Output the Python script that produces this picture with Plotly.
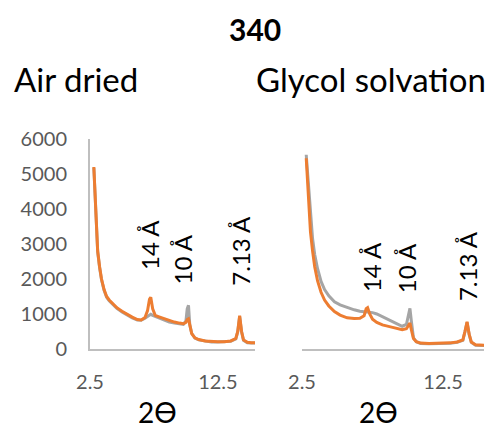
import plotly.graph_objects as go

# sample 340 - XRD traces, 2-theta (Co K-alpha) vs counts
panel_titles = ["Air dried", "Glycol solvation"]
peak_labels = ["14 Å", "10 Å", "7.13 Å"]
x_ticks = [2.5, 12.5]
y_ticks = [0, 1000, 2000, 3000, 4000, 5000, 6000]

air_theta = [2.8, 2.9, 3.0, 3.1, 3.25, 3.4, 3.6, 3.8, 4.0, 4.3, 4.6, 5.0, 5.4,
             5.8, 6.2, 6.5, 6.8, 7.0, 7.15, 7.25, 7.4, 7.6, 7.9, 8.3, 8.7, 9.1,
             9.5, 9.8, 10.0, 10.1, 10.2, 10.3, 10.45, 10.7, 11.0, 11.5, 12.0,
             12.5, 13.0, 13.5, 13.9, 14.05, 14.2, 14.35, 14.5, 14.8, 15.1, 15.4]
air_orange = [5200, 4400, 3650, 2800, 2350, 2000, 1700, 1500, 1400, 1290, 1180,
              1080, 990, 910, 840, 830, 900, 1100, 1420, 1480, 1150, 960, 920,
              870, 800, 770, 740, 720, 760, 840, 860, 650, 440, 320, 270, 230,
              210, 210, 210, 230, 300, 500, 950, 500, 260, 190, 180, 180]
air_gray = [5180, 4380, 3630, 2780, 2330, 1980, 1680, 1480, 1380, 1270, 1160,
            1060, 970, 890, 830, 820, 880, 930, 970, 990, 960, 930, 880, 830,
            770, 740, 710, 700, 800, 1150, 1250, 700, 450, 310, 260, 220, 200,
            200, 200, 220, 290, 490, 930, 490, 250, 180, 170, 170]

gly_theta = [2.8, 2.9, 3.0, 3.1, 3.25, 3.4, 3.6, 3.85, 4.1, 4.4, 4.8, 5.2, 5.7,
             6.2, 6.6, 6.9, 7.05, 7.15, 7.3, 7.5, 7.8, 8.2, 8.7, 9.2, 9.6, 9.9,
             10.05, 10.15, 10.25, 10.4, 10.6, 10.9, 11.5, 12.0, 12.5, 13.0,
             13.5, 13.9, 14.05, 14.2, 14.35, 14.5, 14.8, 15.1, 15.4]
gly_orange = [5450, 4700, 3900, 3350, 2800, 2350, 1950, 1620, 1400, 1230, 1070,
              970, 890, 870, 880, 950, 1150, 1180, 1000, 850, 760, 690, 640,
              590, 550, 580, 700, 740, 550, 300, 210, 170, 160, 160, 165, 175,
              200, 260, 500, 780, 420, 200, 120, 115, 110]
gly_gray = [5550, 5000, 4300, 3700, 3150, 2700, 2300, 1930, 1700, 1520, 1350,
            1260, 1180, 1120, 1080, 1070, 1070, 1070, 1060, 1040, 1000, 920,
            830, 710, 650, 700, 1000, 1160, 800, 320, 210, 160, 150, 150, 155,
            165, 190, 250, 490, 760, 410, 190, 110, 105, 100]

# peak label anchors (2theta, counts) for each panel
air_label_x = [7.1, 9.75, 14.2]
air_label_y = [2970, 2550, 2800]
gly_label_x = [7.39, 9.88, 14.2]
gly_label_y = [2340, 2310, 2370]

ORANGE = "#ED7D31"
GRAY = "#A5A5A5"
AXIS = "#BFBFBF"
TICK = "#595959"
FONT = "Lato"

# the page body keeps its default 8px margin, so the figure is shrunk by it
OFF = 8
W, H = 497 - OFF, 432 - OFF


def px_x(p):
    return (p - OFF) / W


def px_y(p):
    return 1 - (p - OFF) / H


fig = go.Figure()

for xs, ys_gray, ys_orange, ax in [(air_theta, air_gray, air_orange, ""),
                                   (gly_theta, gly_gray, gly_orange, "2")]:
    fig.add_trace(go.Scatter(x=xs, y=ys_gray, mode="lines",
                             line=dict(color=GRAY, width=3),
                             xaxis="x" + ax, yaxis="y" + ax, showlegend=False))
    fig.add_trace(go.Scatter(x=xs, y=ys_orange, mode="lines",
                             line=dict(color=ORANGE, width=3),
                             xaxis="x" + ax, yaxis="y" + ax, showlegend=False))

x_common = dict(range=[2.5, 15.4], tickvals=x_ticks, ticktext=["2.5", "12.5"],
                showgrid=False, zeroline=False, showline=True, linecolor=AXIS,
                linewidth=2, ticks="", ticklabelstandoff=14, automargin=False,
                tickfont=dict(family=FONT, size=20, color=TICK))
y_dom = [px_y(349), px_y(139)]

fig.update_layout(
    width=W, height=H,
    margin=dict(l=0, r=0, t=0, b=0),
    paper_bgcolor="white", plot_bgcolor="white",
    xaxis=dict(domain=[px_x(90), px_x(255)], anchor="y", **x_common),
    yaxis=dict(domain=y_dom, range=[0, 6000], tickvals=y_ticks,
               showgrid=False, zeroline=False, showline=True, linecolor=AXIS,
               linewidth=2, ticks="", ticklabelstandoff=17, automargin=False,
               tickfont=dict(family=FONT, size=20, color=TICK), anchor="x"),
    xaxis2=dict(domain=[px_x(302), px_x(484)], anchor="y2", **x_common),
    yaxis2=dict(domain=y_dom, range=[0, 6000], showgrid=False, zeroline=False,
                showline=False, showticklabels=False, automargin=False,
                anchor="x2"),
)

annotations = [
    dict(text="<b>340</b>", x=px_x(255), y=px_y(29), font=dict(size=30)),
    dict(text=panel_titles[0], x=px_x(12), y=px_y(79), xanchor="left",
         font=dict(size=33)),
    dict(text=panel_titles[1], x=px_x(254), y=px_y(79), xanchor="left",
         font=dict(size=33)),
    dict(text="2ϴ", x=px_x(157), y=px_y(412), font=dict(size=28)),
    dict(text="2ϴ", x=px_x(378), y=px_y(412), font=dict(size=28)),
]
for a in annotations:
    a.update(xref="paper", yref="paper", showarrow=False)
    a["font"].update(family=FONT, color="black")
    a.setdefault("xanchor", "center")
    a.setdefault("yanchor", "middle")
    fig.add_annotation(**a)

for lx, ly, ax in [(air_label_x, air_label_y, ""), (gly_label_x, gly_label_y, "2")]:
    for text, x, y in zip(peak_labels, lx, ly):
        fig.add_annotation(text=text, x=x, y=y, xref="x" + ax, yref="y" + ax,
                           showarrow=False, textangle=-90,
                           font=dict(family=FONT, size=24, color="black"))

fig.write_html("out.html")
